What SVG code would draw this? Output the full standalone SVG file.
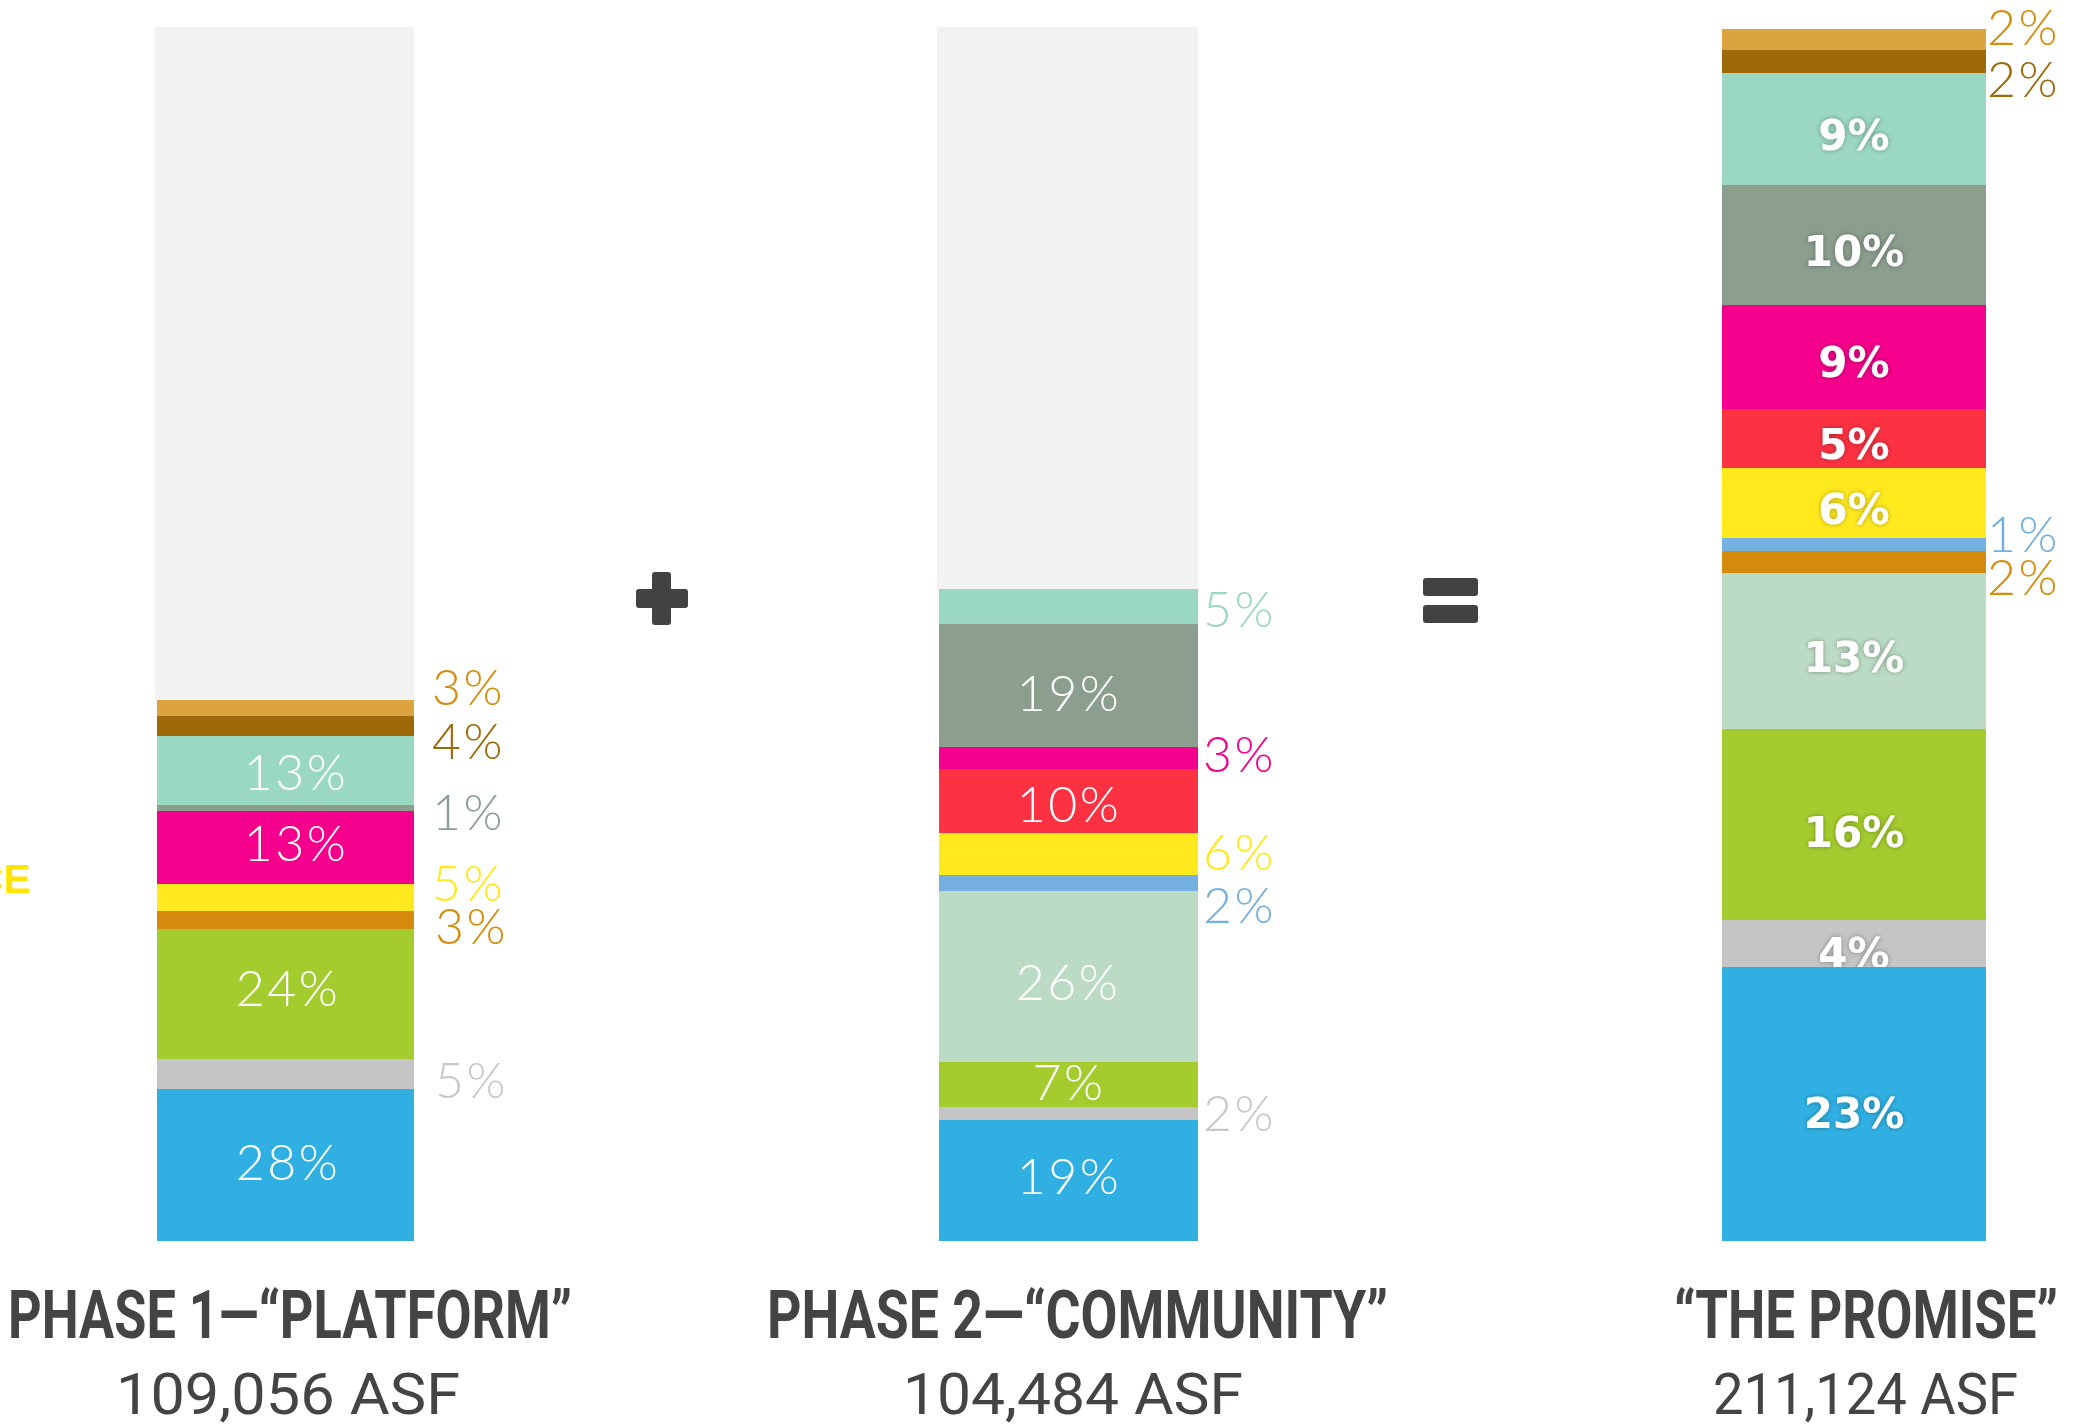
<svg xmlns="http://www.w3.org/2000/svg" width="2074" height="1426" viewBox="0 0 2074 1426">
<style>
.pct{font-family:Lato,"Open Sans","Noto Sans",sans-serif;font-weight:300;font-size:50px;letter-spacing:2.5px}
.in{fill:#ffffff;text-anchor:middle}
.bold{font-family:"DejaVu Sans","Liberation Sans",sans-serif;font-weight:bold;font-size:42px;fill:#ffffff;text-anchor:middle}
.title{font-family:Roboto,"Liberation Sans",sans-serif;font-weight:bold;font-size:67px;fill:#454344}
.sub{font-family:Roboto,"Liberation Sans",sans-serif;font-weight:400;font-size:57px;fill:#454344}
.op{fill:#434242}
.bg{fill:#f2f2f2}
.c-ol{fill:#dca43f}.c-br{fill:#9d6909}.c-mi{fill:#9bd8c1}.c-gg{fill:#8c9f8f}.c-mg{fill:#f5008c}
.c-rd{fill:#fc3242}.c-ye{fill:#ffea1e}.c-lb{fill:#74b0e0}.c-or{fill:#d48a0c}.c-pg{fill:#bcdbc4}
.c-gr{fill:#a5cc2e}.c-gy{fill:#c5c5c5}.c-bl{fill:#30b0e2}
.t-or{fill:#d68c0b}.t-br{fill:#9d6909}.t-gg{fill:#8c9f8f}.t-ye{fill:#ffe81e}.t-gy{fill:#c8c8c8}
.t-mi{fill:#9bd8c1}.t-mg{fill:#f5008c}.t-lb{fill:#74b0e0}
</style>
<defs>
<filter id="sh" x="-20%" y="-30%" width="140%" height="160%">
<feGaussianBlur in="SourceAlpha" stdDeviation="2.5"/>
<feComponentTransfer><feFuncA type="linear" slope="0.35"/></feComponentTransfer>
<feMerge><feMergeNode/><feMergeNode in="SourceGraphic"/></feMerge>
</filter>
</defs>
<rect width="2074" height="1426" fill="#ffffff"/>

<text x="31" y="893" text-anchor="end" style="font-family:'Liberation Sans',Arial,sans-serif;font-weight:bold;font-size:41px;fill:#ffe500">CE</text>

<g id="bar-phase1">
<rect class="bg" x="155" y="27" width="259" height="674"/>
<rect class="c-ol" x="157" y="700" width="257" height="16"/>
<rect class="c-br" x="157" y="716" width="257" height="20"/>
<rect class="c-mi" x="157" y="736" width="257" height="69"/>
<rect class="c-gg" x="157" y="805" width="257" height="6"/>
<rect class="c-mg" x="157" y="811" width="257" height="73"/>
<rect class="c-ye" x="157" y="884" width="257" height="27"/>
<rect class="c-or" x="157" y="911" width="257" height="18"/>
<rect class="c-gr" x="157" y="929" width="257" height="130"/>
<rect class="c-gy" x="157" y="1059" width="257" height="30"/>
<rect class="c-bl" x="157" y="1089" width="257" height="152"/>
<text class="pct in" x="296" y="790">13%</text>
<text class="pct in" x="296" y="861">13%</text>
<text class="pct in" x="288" y="1006">24%</text>
<text class="pct in" x="288" y="1180">28%</text>
<text class="pct t-or" x="432" y="705">3%</text>
<text class="pct t-br" x="432" y="759">4%</text>
<text class="pct t-gg" x="432" y="830">1%</text>
<text class="pct t-ye" x="432" y="901">5%</text>
<text class="pct t-or" x="435" y="944">3%</text>
<text class="pct t-gy" x="435" y="1098">5%</text>
</g>

<g id="bar-phase2">
<rect class="bg" x="937" y="27" width="261" height="563"/>
<rect class="c-mi" x="939" y="589" width="259" height="35"/>
<rect class="c-gg" x="939" y="624" width="259" height="123"/>
<rect class="c-mg" x="939" y="747" width="259" height="22"/>
<rect class="c-rd" x="939" y="769" width="259" height="64"/>
<rect class="c-ye" x="939" y="833" width="259" height="42"/>
<rect class="c-lb" x="939" y="875" width="259" height="16"/>
<rect class="c-pg" x="939" y="891" width="259" height="171"/>
<rect class="c-gr" x="939" y="1062" width="259" height="45"/>
<rect class="c-gy" x="939" y="1107" width="259" height="13"/>
<rect class="c-bl" x="939" y="1120" width="259" height="121"/>
<text class="pct in" x="1069" y="711">19%</text>
<text class="pct in" x="1069" y="822">10%</text>
<text class="pct in" x="1068" y="1000">26%</text>
<text class="pct in" x="1069" y="1100">7%</text>
<text class="pct in" x="1069" y="1194">19%</text>
<text class="pct t-mi" x="1203" y="627">5%</text>
<text class="pct t-mg" x="1203" y="772">3%</text>
<text class="pct t-ye" x="1203" y="870">6%</text>
<text class="pct t-lb" x="1203" y="923">2%</text>
<text class="pct t-gy" x="1203" y="1131">2%</text>
</g>

<g id="bar-promise">
<rect class="c-ol" x="1722" y="29" width="264" height="21"/>
<rect class="c-br" x="1722" y="50" width="264" height="23"/>
<rect class="c-mi" x="1722" y="73" width="264" height="112"/>
<rect class="c-gg" x="1722" y="185" width="264" height="120"/>
<rect class="c-mg" x="1722" y="305" width="264" height="104"/>
<rect class="c-rd" x="1722" y="409" width="264" height="59"/>
<rect class="c-ye" x="1722" y="468" width="264" height="70"/>
<rect class="c-lb" x="1722" y="538" width="264" height="13"/>
<rect class="c-or" x="1722" y="551" width="264" height="22"/>
<rect class="c-pg" x="1722" y="573" width="264" height="156"/>
<rect class="c-gr" x="1722" y="729" width="264" height="191"/>
<rect class="c-gy" x="1722" y="920" width="264" height="47"/>
<g filter="url(#sh)">
<text class="bold" x="1854" y="150">9%</text>
<text class="bold" x="1854" y="266">10%</text>
<text class="bold" x="1854" y="377">9%</text>
<text class="bold" x="1854" y="459">5%</text>
<text class="bold" x="1854" y="524">6%</text>
<text class="bold" x="1854" y="672">13%</text>
<text class="bold" x="1854" y="847">16%</text>
<text class="bold" x="1854" y="968">4%</text>
</g>
<rect class="c-bl" x="1722" y="967" width="264" height="274"/>
<text class="bold" x="1854" y="1128" filter="url(#sh)">23%</text>
<text class="pct t-or" x="1987" y="45">2%</text>
<text class="pct t-br" x="1987" y="97">2%</text>
<text class="pct t-lb" x="1987" y="552">1%</text>
<text class="pct t-or" x="1987" y="595">2%</text>
</g>

<g id="operators">
<g id="plus">
<rect class="op" x="636" y="589" width="52" height="19" rx="3"/>
<rect class="op" x="652" y="572" width="19" height="53" rx="3"/>
</g>
<g id="equals">
<rect class="op" x="1423" y="578" width="55" height="18" rx="3"/>
<rect class="op" x="1423" y="605" width="55" height="18" rx="3"/>
</g>
</g>

<g id="labels">
<text class="title" x="8" y="1338" textLength="564" lengthAdjust="spacingAndGlyphs">PHASE 1—“PLATFORM”</text>
<text class="sub" x="116" y="1414" textLength="344" lengthAdjust="spacingAndGlyphs">109,056 ASF</text>
<text class="title" x="767" y="1338" textLength="621" lengthAdjust="spacingAndGlyphs">PHASE 2—“COMMUNITY”</text>
<text class="sub" x="903" y="1414" textLength="340" lengthAdjust="spacingAndGlyphs">104,484 ASF</text>
<text class="title" x="1674" y="1338" textLength="384" lengthAdjust="spacingAndGlyphs">“THE PROMISE”</text>
<text class="sub" x="1713" y="1414" textLength="305" lengthAdjust="spacingAndGlyphs">211,124 ASF</text>
</g>
</svg>
